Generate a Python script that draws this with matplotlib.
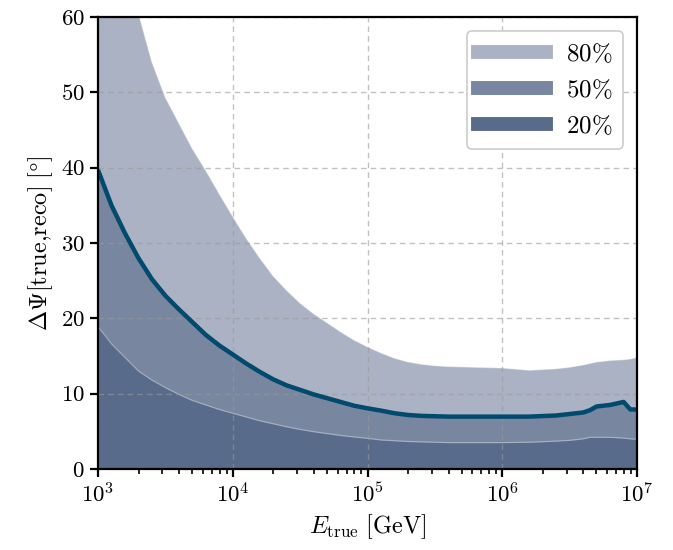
import numpy as np
import matplotlib
matplotlib.use("Agg")
import matplotlib.pyplot as plt
from matplotlib.lines import Line2D

plt.rcParams['mathtext.fontset'] = 'cm'
plt.rcParams['font.family'] = 'serif'
plt.rcParams['font.serif'] = ['cmr10', 'DejaVu Serif']
plt.rcParams['axes.formatter.use_mathtext'] = True

# log10 of true energy [GeV]
log10_e = [3.0, 3.1, 3.2, 3.3, 3.4, 3.5, 3.6, 3.7, 3.8, 3.9, 4.0, 4.1, 4.2, 4.3,
           4.4, 4.5, 4.6, 4.7, 4.8, 4.9, 5.0, 5.1, 5.2, 5.3, 5.4, 5.5, 5.6, 5.8,
           6.0, 6.2, 6.4, 6.5, 6.6, 6.65, 6.7, 6.8, 6.9, 6.95, 7.0]

q80 = [82, 74, 67, 60.5, 54.0, 49.3, 45.9, 42.5, 39.6, 36.5, 33.5, 30.6, 28.0, 25.6,
       23.7, 22.0, 20.6, 19.4, 18.2, 17.1, 16.2, 15.4, 14.7, 14.2, 13.9, 13.7, 13.6, 13.5,
       13.4, 13.1, 13.3, 13.5, 13.8, 14.0, 14.2, 14.4, 14.5, 14.6, 14.8]

q50 = [39.7, 35.0, 31.3, 28.0, 25.2, 23.0, 21.2, 19.5, 17.8, 16.4, 15.2, 14.0, 12.9, 11.9,
       11.1, 10.5, 9.9, 9.4, 8.9, 8.4, 8.05, 7.75, 7.4, 7.17, 7.05, 7.0, 6.95, 6.95,
       6.95, 6.95, 7.1, 7.3, 7.5, 7.8, 8.3, 8.5, 8.9, 7.9, 7.9]

q20 = [18.9, 16.6, 14.8, 13.0, 11.8, 10.8, 9.9, 9.1, 8.5, 7.9, 7.4, 6.9, 6.4, 6.0,
       5.6, 5.25, 4.95, 4.7, 4.45, 4.25, 4.07, 3.85, 3.75, 3.65, 3.6, 3.55, 3.5, 3.5,
       3.5, 3.55, 3.7, 3.8, 4.0, 4.2, 4.2, 4.2, 4.1, 4.0, 3.95]

labels = [r'$80\%$', r'$50\%$', r'$20\%$']
colors = ['#abb2c4', '#7886a0', '#586b8a']
median_color = '#004a6e'

energy = 10.0 ** np.array(log10_e)

fig = plt.figure(figsize=(6.73, 5.5), dpi=100)
ax = fig.add_axes([0.1456, 0.1473, 0.801, 0.8218])

for q, c in zip([q80, q50, q20], colors):
    ax.fill_between(energy, 0, q, color=c, linewidth=0, zorder=1)
    ax.plot(energy, q, color='white', alpha=0.35, lw=0.9, zorder=1.5)

ax.plot(energy, q50, color=median_color, lw=3.2, zorder=3, solid_capstyle='butt')

ax.set_xscale('log')
ax.set_xlim(1e3, 1e7)
ax.set_ylim(0, 60)
ax.set_yticks([0, 10, 20, 30, 40, 50, 60])
ax.set_axisbelow(False)
ax.grid(True, which='major', ls=(0, (4, 3)), color='#999999', alpha=0.6, lw=1.0, zorder=2)

ax.tick_params(axis='both', which='major', direction='out', length=6, width=1.6,
               labelsize=16.5, right=False, top=False)
ax.tick_params(axis='both', which='minor', direction='out', length=3.5, width=1.2,
               right=False, top=False)
for s in ax.spines.values():
    s.set_linewidth(1.6)
    s.set_zorder(5)

ax.set_xlabel(r'$E_{\mathrm{true}}\ [\mathrm{GeV}]$', fontsize=17.5)
ax.set_ylabel(r'$\Delta\Psi[\mathrm{true{,}reco}]\ [\degree]$', fontsize=17.5)

handles = [Line2D([0], [0], color=c, lw=10) for c in colors]
leg = ax.legend(handles, labels, loc='upper right', fontsize=18, handlelength=2.7,
                frameon=True, fancybox=True, framealpha=1.0, edgecolor='#cccccc',
                borderpad=0.45, labelspacing=0.5, borderaxespad=0.55, handletextpad=0.8)
leg.get_frame().set_linewidth(1.2)
leg.set_zorder(10)

fig.savefig('out.png', dpi=100)
